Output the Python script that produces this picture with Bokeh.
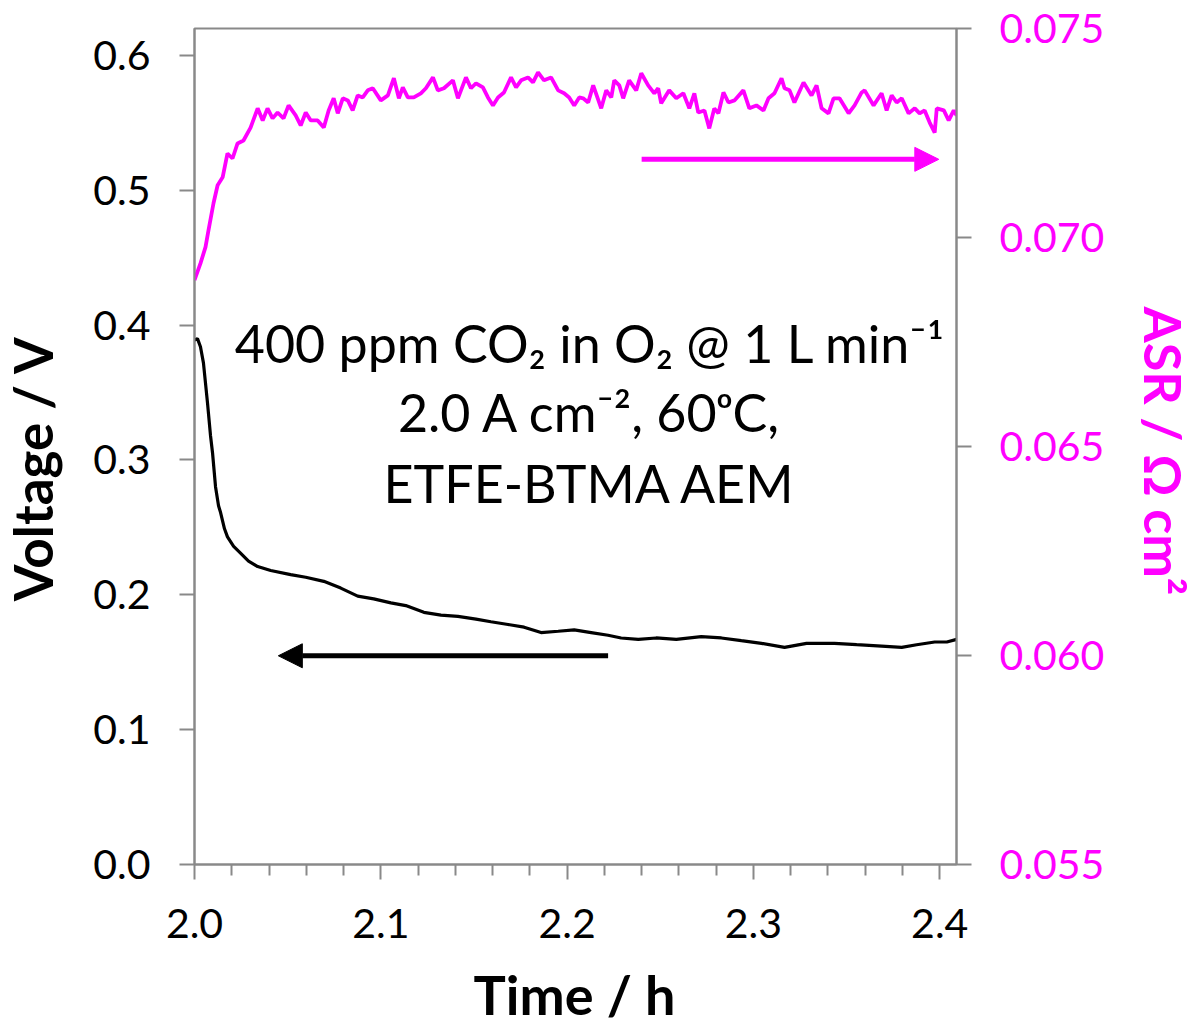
import math
from bokeh.plotting import figure
from bokeh.layouts import row, column
from bokeh.models import (Range1d, LinearAxis, FixedTicker, Arrow, NormalHead, ColumnDataSource,
                          PrintfTickFormatter)
from bokeh.core.properties import value
from bokeh.embed import file_html
from bokeh.resources import INLINE

# ---------------- data ----------------
volt_time = [2.0000, 2.0016, 2.0032, 2.0048, 2.0059, 2.0070, 2.0086, 2.0097, 2.0113, 2.0129,
             2.0140, 2.0161, 2.0177, 2.0210, 2.0247, 2.0290, 2.0339, 2.0409, 2.0516, 2.0597,
             2.0694, 2.0785, 2.0876, 2.0962, 2.1054, 2.1134, 2.1231, 2.1323, 2.1414, 2.1511,
             2.1591, 2.1683, 2.1769, 2.1860, 2.1952, 2.2038, 2.2129, 2.2220, 2.2290, 2.2382,
             2.2478, 2.2586, 2.2720, 2.2828, 2.2935, 2.3043, 2.3167, 2.3285, 2.3435, 2.3554,
             2.3688, 2.3796, 2.3876, 2.3973, 2.4038, 2.4091]
voltage = [0.389, 0.390, 0.384, 0.372, 0.357, 0.342, 0.318, 0.305, 0.280, 0.266,
           0.261, 0.249, 0.243, 0.236, 0.231, 0.225, 0.221, 0.218, 0.215, 0.213,
           0.210, 0.205, 0.199, 0.197, 0.194, 0.192, 0.187, 0.185, 0.184, 0.182,
           0.180, 0.178, 0.176, 0.172, 0.173, 0.174, 0.172, 0.170, 0.168, 0.167,
           0.168, 0.167, 0.169, 0.168, 0.166, 0.164, 0.161, 0.164, 0.164, 0.163,
           0.162, 0.161, 0.163, 0.165, 0.165, 0.167]

asr_time = [2.0000, 2.0032, 2.0059, 2.0075, 2.0102, 2.0124, 2.0151, 2.0177, 2.0204, 2.0231,
            2.0263, 2.0301, 2.0339, 2.0366, 2.0392, 2.0419, 2.0446, 2.0478, 2.0505, 2.0543,
            2.0570, 2.0597, 2.0624, 2.0661, 2.0694, 2.0720, 2.0747, 2.0769, 2.0796, 2.0823,
            2.0849, 2.0876, 2.0903, 2.0930, 2.0957, 2.1000, 2.1038, 2.1070, 2.1097, 2.1118,
            2.1145, 2.1177, 2.1215, 2.1242, 2.1280, 2.1306, 2.1339, 2.1387, 2.1414, 2.1457,
            2.1484, 2.1511, 2.1548, 2.1575, 2.1602, 2.1629, 2.1661, 2.1699, 2.1726, 2.1753,
            2.1790, 2.1817, 2.1844, 2.1876, 2.1914, 2.1952, 2.1984, 2.2011, 2.2038, 2.2065,
            2.2086, 2.2113, 2.2140, 2.2183, 2.2210, 2.2237, 2.2253, 2.2280, 2.2301, 2.2333,
            2.2371, 2.2398, 2.2435, 2.2468, 2.2489, 2.2505, 2.2548, 2.2586, 2.2624, 2.2656,
            2.2683, 2.2704, 2.2737, 2.2763, 2.2790, 2.2812, 2.2839, 2.2866, 2.2898, 2.2946,
            2.2978, 2.3016, 2.3054, 2.3081, 2.3113, 2.3151, 2.3167, 2.3194, 2.3220, 2.3269,
            2.3312, 2.3339, 2.3366, 2.3403, 2.3430, 2.3462, 2.3511, 2.3543, 2.3581, 2.3597,
            2.3645, 2.3688, 2.3715, 2.3742, 2.3769, 2.3796, 2.3833, 2.3866, 2.3892, 2.3919,
            2.3946, 2.3973, 2.3984, 2.4022, 2.4048, 2.4075, 2.4091]
asr = [0.06898, 0.06938, 0.06977, 0.07017, 0.07082, 0.07125, 0.07144, 0.07201, 0.07189, 0.07225,
       0.07232, 0.07263, 0.07309, 0.07280, 0.07309, 0.07285, 0.07299, 0.07285, 0.07316, 0.07292,
       0.07268, 0.07299, 0.07280, 0.07280, 0.07263, 0.07304, 0.07333, 0.07297, 0.07333, 0.07328,
       0.07304, 0.07340, 0.07335, 0.07352, 0.07357, 0.07328, 0.07340, 0.07381, 0.07333, 0.07359,
       0.07335, 0.07335, 0.07345, 0.07357, 0.07383, 0.07352, 0.07357, 0.07376, 0.07333, 0.07383,
       0.07357, 0.07369, 0.07359, 0.07335, 0.07316, 0.07335, 0.07347, 0.07383, 0.07359, 0.07376,
       0.07383, 0.07371, 0.07395, 0.07376, 0.07383, 0.07352, 0.07345, 0.07335, 0.07316, 0.07335,
       0.07333, 0.07323, 0.07364, 0.07309, 0.07352, 0.07335, 0.07376, 0.07364, 0.07333, 0.07376,
       0.07352, 0.07393, 0.07364, 0.07345, 0.07357, 0.07321, 0.07352, 0.07333, 0.07345, 0.07309,
       0.07345, 0.07299, 0.07304, 0.07261, 0.07309, 0.07297, 0.07347, 0.07323, 0.07328, 0.07352,
       0.07309, 0.07316, 0.07304, 0.07333, 0.07345, 0.07381, 0.07357, 0.07352, 0.07323, 0.07371,
       0.07340, 0.07364, 0.07309, 0.07297, 0.07333, 0.07333, 0.07297, 0.07316, 0.07347, 0.07352,
       0.07316, 0.07345, 0.07304, 0.07340, 0.07323, 0.07333, 0.07297, 0.07309, 0.07297, 0.07304,
       0.07275, 0.07251, 0.07309, 0.07304, 0.07280, 0.07304, 0.07292]

x_ticks = [2.0, 2.1, 2.2, 2.3, 2.4]
x_minor_ticks = [2.02, 2.04, 2.06, 2.08, 2.12, 2.14, 2.16, 2.18, 2.22, 2.24, 2.26, 2.28,
                 2.32, 2.34, 2.36, 2.38]
v_ticks = [0.0, 0.1, 0.2, 0.3, 0.4, 0.5, 0.6]
asr_ticks = [0.055, 0.060, 0.065, 0.070, 0.075]

note_lines = ["400 ppm CO\u2082 in O\u2082 @ 1 L min\u207b\u00b9",
              "2.0 A cm\u207b\u00b2, 60\u1d52C,",
              "ETFE-BTMA AEM"]
note_x = [2.2124, 2.2124, 2.2124]
note_y = [0.3867, 0.3356, 0.2830]

x_title = "Time / h"
v_title = "Voltage / V"
asr_title = "ASR / \u03a9 cm\u00b2"

# ---------------- styling / layout ----------------
MAG = "#FF00FF"
GRAY = "#898989"
FONT = "Lato"

W, H = 1195, 1027
LEFT_W, RIGHT_W, MAIN_H = 70, 66, 960
MAIN_W = W - LEFT_W - RIGHT_W
BOTTOM_H = H - MAIN_H
FRAME_L, FRAME_R, FRAME_T, FRAME_B = 194, 956, 28, 864   # frame edges in page pixels

p = figure(width=MAIN_W, height=MAIN_H, output_backend="svg", toolbar_location=None,
           x_range=Range1d(2.0, 2.409), y_range=Range1d(0.0, 0.62),
           min_border_left=FRAME_L - LEFT_W, min_border_right=(LEFT_W + MAIN_W) - FRAME_R,
           min_border_top=FRAME_T, min_border_bottom=MAIN_H - FRAME_B,
           background_fill_color="white", border_fill_color="white")
p.extra_y_ranges = {"asr": Range1d(0.055, 0.075)}
p.xgrid.visible = False
p.ygrid.visible = False
p.outline_line_color = GRAY
p.outline_line_width = 2

def style_axis(ax, label_color):
    ax.axis_line_color = GRAY
    ax.axis_line_width = 2
    ax.major_tick_line_color = GRAY
    ax.major_tick_line_width = 2
    ax.minor_tick_line_color = GRAY
    ax.minor_tick_line_width = 2
    ax.major_tick_in = 0
    ax.major_tick_out = 15
    ax.minor_tick_in = 0
    ax.minor_tick_out = 11
    ax.major_label_text_font = FONT
    ax.major_label_text_font_size = "41px"
    ax.major_label_text_color = label_color

xa = p.xaxis[0]
xa.ticker = FixedTicker(ticks=x_ticks, minor_ticks=x_minor_ticks)
xa.formatter = PrintfTickFormatter(format="%.1f")
style_axis(xa, "black")
xa.major_label_standoff = 29

ya = p.yaxis[0]
ya.ticker = FixedTicker(ticks=v_ticks, minor_ticks=[])
ya.formatter = PrintfTickFormatter(format="%.1f")
style_axis(ya, "black")
ya.major_label_standoff = 29

ra = LinearAxis(y_range_name="asr", ticker=FixedTicker(ticks=asr_ticks, minor_ticks=[]),
                formatter=PrintfTickFormatter(format="%.3f"))
style_axis(ra, MAG)
ra.major_label_standoff = 28
p.add_layout(ra, "right")

p.line(volt_time, voltage, line_color="black", line_width=3.2)
p.line(asr_time, asr, line_color=MAG, line_width=3.8, y_range_name="asr")

src = ColumnDataSource(dict(x=note_x, y=note_y, t=note_lines))
p.text(x="x", y="y", text="t", source=src, text_font=value(FONT), text_font_size="52px",
       text_color="black", text_align="center", text_baseline="middle")

p.add_layout(Arrow(end=NormalHead(size=24, fill_color="black", line_color="black", line_width=1),
                   x_start=2.222, y_start=0.1548, x_end=2.045, y_end=0.1548,
                   line_color="black", line_width=5))
p.add_layout(Arrow(end=NormalHead(size=24, fill_color=MAG, line_color=MAG, line_width=1),
                   x_start=2.240, y_start=0.07187, x_end=2.3995, y_end=0.07187,
                   line_color=MAG, line_width=5, y_range_name="asr"))


# ---------------- title strips (pixel coordinate figures) ----------------
def strip(w, h):
    f = figure(width=w, height=h, output_backend="svg", toolbar_location=None,
               x_range=Range1d(0, w), y_range=Range1d(0, h),
               x_axis_location=None, y_axis_location=None,
               min_border=0, min_border_left=0, min_border_right=0,
               min_border_top=0, min_border_bottom=0,
               background_fill_color="white", border_fill_color="white")
    f.outline_line_color = None
    f.xgrid.visible = False
    f.ygrid.visible = False
    return f

# left title
left = strip(LEFT_W, MAIN_H)
left.text(x=[32], y=[MAIN_H - 505], text=[v_title], angle=math.pi / 2,
          text_font=value(FONT), text_font_style="bold", text_font_size="53px",
          text_color="black", text_align="center", text_baseline="middle")

# right title
right = strip(RIGHT_W, MAIN_H)
right.text(x=[1163 - (LEFT_W + MAIN_W)], y=[MAIN_H - 485], text=[asr_title], angle=-math.pi / 2,
           text_font=value(FONT), text_font_style="bold", text_font_size="52px",
           text_color=MAG, text_align="center", text_baseline="middle")

# bottom title
bottom = strip(W, BOTTOM_H)
bottom.text(x=[574], y=[H - 994], text=[x_title],
            text_font=value(FONT), text_font_style="bold", text_font_size="54px",
            text_color="black", text_align="center", text_baseline="middle")

layout = column(row(left, p, right, spacing=0), bottom, spacing=0)

open("out.html", "w").write(file_html(layout, INLINE))
